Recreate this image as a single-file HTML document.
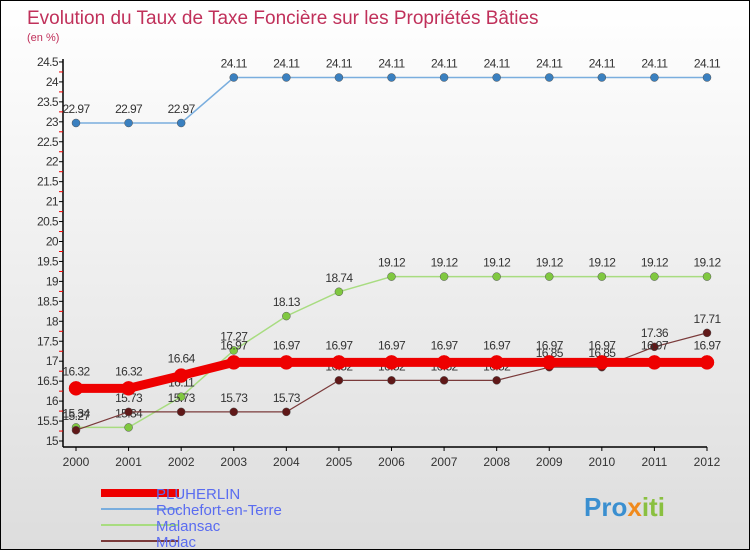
<!DOCTYPE html>
<html><head><meta charset="utf-8"><style>
body{margin:0}
#c{width:750px;height:550px;position:relative;box-sizing:border-box;border:1px solid #000;background:linear-gradient(#fff,#ddd);font-family:"Liberation Sans",sans-serif;overflow:hidden}
</style></head><body>
<div id="c">
<svg id="s" width="748" height="548" style="position:absolute;left:0;top:0">
<text x="26" y="23" font-size="19" fill="#c0305a">Evolution du Taux de Taxe Foncière sur les Propriétés Bâties</text>
<text x="26" y="40" font-size="11" fill="#c0305a">(en %)</text>
<g id="ax"></g><g id="marks"></g><g id="lg"></g>
<text x="583" y="515" font-size="26" font-weight="bold" fill="#3a8fd0">Pro<tspan fill="#f08a1c">x</tspan><tspan fill="#8ac040">iti</tspan></text>
</svg>
</div>
<script>
const years=[2000,2001,2002,2003,2004,2005,2006,2007,2008,2009,2010,2011,2012];
const pluherlin=[16.32,16.32,16.64,16.97,16.97,16.97,16.97,16.97,16.97,16.97,16.97,16.97,16.97];
const rochefort=[22.97,22.97,22.97,24.11,24.11,24.11,24.11,24.11,24.11,24.11,24.11,24.11,24.11];
const malansac=[15.34,15.34,16.11,17.27,18.13,18.74,19.12,19.12,19.12,19.12,19.12,19.12,19.12];
const molac=[15.27,15.73,15.73,15.73,15.73,16.52,16.52,16.52,16.52,16.85,16.85,17.36,17.71];
const yTicks=[15,15.5,16,16.5,17,17.5,18,18.5,19,19.5,20,20.5,21,21.5,22,22.5,23,23.5,24,24.5];
const NS="http://www.w3.org/2000/svg";
const X=i=>75+i*(631/12), Y=v=>440-(v-15)*39.9;
function mk(p,t,a){const e=document.createElementNS(NS,t);for(const k in a)e.setAttribute(k,a[k]);p.appendChild(e);return e;}
const ax=document.getElementById('ax'),mg=document.getElementById('marks'),lg=document.getElementById('lg');
let e=mk(ax,'line',{x1:62,y1:58,x2:62,y2:446,stroke:'#000','stroke-width':1.5});

e=mk(ax,'line',{x1:62,y1:446,x2:706,y2:446,stroke:'#000','stroke-width':1.5});

yTicks.forEach((v,k)=>{const y=Y(v);mk(ax,'line',{x1:58,x2:62,y1:y,y2:y,stroke:'#000'});
if(k>0)mk(ax,'line',{x1:58,x2:62,y1:y+10,y2:y+10,stroke:'#e00'});
const t=mk(ax,'text',{x:57,y:y+4,'font-size':12,'text-anchor':'end',fill:'#333','letter-spacing':'-0.6'});t.textContent=v;
});
years.forEach((yr,i)=>{const x=X(i);mk(ax,'line',{x1:x,x2:x,y1:446,y2:450,stroke:'#000'});
const t=mk(ax,'text',{x:x,y:465,'font-size':12,'text-anchor':'middle',fill:'#333'});t.textContent=yr;
});
function series(name,data,col,w,r,dot){const g=mk(mg,'g',{});

mk(g,'polyline',{points:data.map((v,i)=>X(i)+','+Y(v)).join(' '),fill:'none',stroke:col,'stroke-width':w});
data.forEach((v,i)=>{const c=mk(g,'circle',{cx:X(i),cy:Y(v),r:r,fill:dot,stroke:col==='#e00'?'#e00':'#555','stroke-width':0.5});

const t=mk(g,'text',{x:X(i),y:Y(v)-(r+6),'font-size':12,'text-anchor':'middle',fill:'#333','letter-spacing':'-0.6'});t.textContent=v;
});}
series('rochefort',rochefort,'#7aaede',1.5,4,'#3a80c0');
series('malansac',malansac,'#a8dc80',1.5,4,'#80c840');
series('molac',molac,'#7a3a3a',1.2,4,'#601818');
series('pluherlin',pluherlin,'#e00',9,7,'#e00');
const lgN=['PLUHERLIN','Rochefort-en-Terre','Malansac','Molac'],lgC=['#e00','#7aaede','#a8dc80','#7a3a3a'],lgW=[8,2,2,2];
lgN.forEach((n,i)=>{const y=492+i*16;mk(lg,'line',{x1:100,x2:178,y1:y,y2:y,stroke:lgC[i],'stroke-width':lgW[i]});
const t=mk(lg,'text',{x:155,y:y+6,'font-size':15,fill:'#5a6cf0'});t.textContent=n;
});
</script>
</body></html>
